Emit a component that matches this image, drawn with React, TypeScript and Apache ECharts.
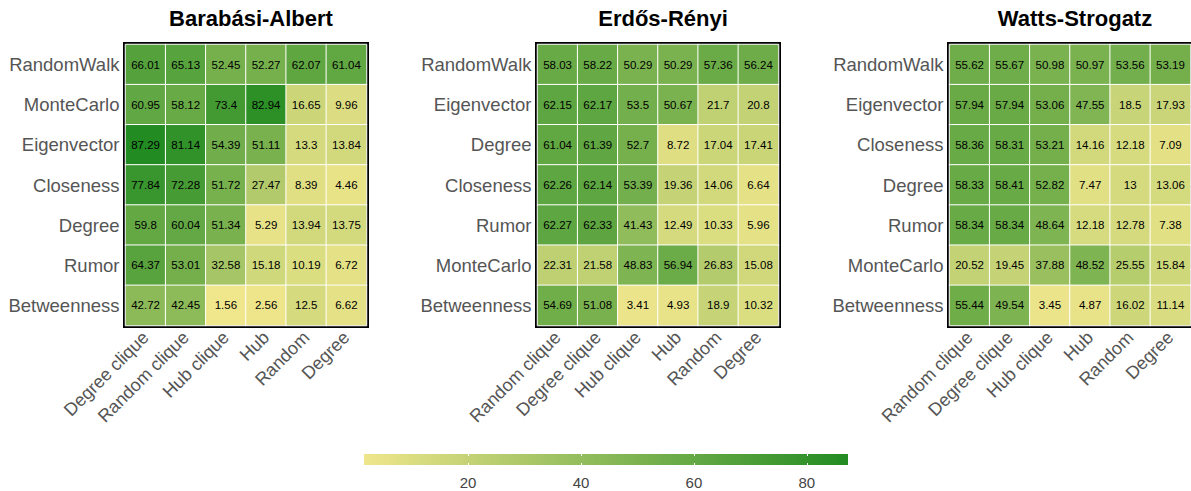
import React, { useEffect, useRef } from "react";
import * as echarts from "echarts";

const FONT = 'Arial, "Liberation Sans", Helvetica, sans-serif';
const KHAKI = "#f0e68c";
const GREEN = "#228b22";

const titles = ["Barabási-Albert", "Erdős-Rényi", "Watts-Strogatz"];

const baCols = ["Degree clique", "Random clique", "Hub clique", "Hub", "Random", "Degree"];
const baRows = ["RandomWalk", "MonteCarlo", "Eigenvector", "Closeness", "Degree", "Rumor", "Betweenness"];
const baValues = [
  [66.01, 65.13, 52.45, 52.27, 62.07, 61.04],
  [60.95, 58.12, 73.4, 82.94, 16.65, 9.96],
  [87.29, 81.14, 54.39, 51.11, 13.3, 13.84],
  [77.84, 72.28, 51.72, 27.47, 8.39, 4.46],
  [59.8, 60.04, 51.34, 5.29, 13.94, 13.75],
  [64.37, 53.01, 32.58, 15.18, 10.19, 6.72],
  [42.72, 42.45, 1.56, 2.56, 12.5, 6.62],
];

const erCols = ["Random clique", "Degree clique", "Hub clique", "Hub", "Random", "Degree"];
const erRows = ["RandomWalk", "Eigenvector", "Degree", "Closeness", "Rumor", "MonteCarlo", "Betweenness"];
const erValues = [
  [58.03, 58.22, 50.29, 50.29, 57.36, 56.24],
  [62.15, 62.17, 53.5, 50.67, 21.7, 20.8],
  [61.04, 61.39, 52.7, 8.72, 17.04, 17.41],
  [62.26, 62.14, 53.39, 19.36, 14.06, 6.64],
  [62.27, 62.33, 41.43, 12.49, 10.33, 5.96],
  [22.31, 21.58, 48.83, 56.94, 26.83, 15.08],
  [54.69, 51.08, 3.41, 4.93, 18.9, 10.32],
];

const wsCols = ["Random clique", "Degree clique", "Hub clique", "Hub", "Random", "Degree"];
const wsRows = ["RandomWalk", "Eigenvector", "Closeness", "Degree", "Rumor", "MonteCarlo", "Betweenness"];
const wsValues = [
  [55.62, 55.67, 50.98, 50.97, 53.56, 53.19],
  [57.94, 57.94, 53.06, 47.55, 18.5, 17.93],
  [58.36, 58.31, 53.21, 14.16, 12.18, 7.09],
  [58.33, 58.41, 52.82, 7.47, 13, 13.06],
  [58.34, 58.34, 48.64, 12.18, 12.78, 7.38],
  [20.52, 19.45, 37.88, 48.52, 25.55, 15.84],
  [55.44, 49.54, 3.45, 4.87, 16.02, 11.14],
];

const colorMin = 1.56;
const colorMax = 87.29;
const colorTicks = [20, 40, 60, 80];

const panels = [
  { cols: baCols, rows: baRows, values: baValues },
  { cols: erCols, rows: erRows, values: erValues },
  { cols: wsCols, rows: wsRows, values: wsValues },
];

export default function App() {
  const ref = useRef<HTMLDivElement>(null);
  useEffect(() => {
    document.body.style.margin = "0";
    if (!ref.current) return;
    const chart = echarts.init(ref.current, null, { renderer: "svg" });
    const gridLefts = [125.5, 537.5, 949.5];
    const gridW = 241;
    const grids: any[] = gridLefts.map((l) => ({
      left: l,
      top: 44.5,
      width: gridW,
      height: 281,
      show: true,
      borderColor: "#000",
      borderWidth: 5,
      backgroundColor: "transparent",
      containLabel: false,
    }));
    grids.push({
      left: 364,
      top: 454,
      width: 484,
      height: 11,
      show: true,
      borderWidth: 0,
      backgroundColor: new echarts.graphic.LinearGradient(0, 0, 1, 0, [
        { offset: 0, color: KHAKI },
        { offset: 1, color: GREEN },
      ]),
    });

    const xAxes: any[] = panels.map((p, i) => ({
      gridIndex: i,
      type: "category",
      data: p.cols,
      position: "bottom",
      axisLine: { show: false },
      axisTick: { show: false },
      splitLine: { show: false },
      axisLabel: {
        rotate: 45,
        interval: 0,
        fontSize: 18,
        color: "#555",
        fontFamily: FONT,
        margin: 9,
      },
    }));
    xAxes.push({
      gridIndex: 3,
      type: "value",
      min: colorMin,
      max: colorMax,
      position: "bottom",
      axisLine: { show: false },
      splitLine: { show: false },
      axisTick: {
        show: true,
        inside: true,
        length: 2,
        lineStyle: { color: "#fff", width: 1 },
        customValues: colorTicks,
      },
      axisLabel: {
        fontSize: 15,
        color: "#444",
        fontFamily: FONT,
        margin: 10,
        customValues: colorTicks,
      },
    });
    xAxes.push({
      gridIndex: 3,
      type: "value",
      min: colorMin,
      max: colorMax,
      position: "top",
      axisLine: { show: false },
      splitLine: { show: false },
      axisTick: {
        show: true,
        inside: true,
        length: 2,
        lineStyle: { color: "#fff", width: 1 },
        customValues: colorTicks,
      },
      axisLabel: { show: false },
    });

    const yAxes: any[] = panels.map((p, i) => ({
      gridIndex: i,
      type: "category",
      data: p.rows,
      inverse: true,
      axisLine: { show: false },
      axisTick: { show: false },
      splitLine: { show: false },
      axisLabel: {
        fontSize: 18.5,
        color: "#555",
        fontFamily: FONT,
        margin: 6,
      },
    }));
    yAxes.push({ gridIndex: 3, type: "value", show: false, min: 0, max: 1 });

    const series: any[] = panels.map((p, i) => {
      const data: any[] = [];
      p.values.forEach((row, r) => {
        row.forEach((v, c) => data.push([c, r, v]));
      });
      return {
        type: "heatmap",
        xAxisIndex: i,
        yAxisIndex: i,
        data,
        itemStyle: { borderColor: "#fff", borderWidth: 1 },
        label: {
          show: true,
          fontSize: 11.5,
          color: "#000",
          fontFamily: FONT,
          formatter: (prm: any) => String(prm.value[2]),
        },
        emphasis: { disabled: true },
      };
    });

    const title = titles.map((t, i) => ({
      text: t,
      left: gridLefts[i] + gridW / 2,
      top: 2,
      textAlign: "center",
      textStyle: { fontSize: 22, fontWeight: "bold", color: "#000", fontFamily: FONT },
    }));

    chart.setOption({
      animation: false,
      backgroundColor: "#fff",
      title,
      grid: grids,
      xAxis: xAxes,
      yAxis: yAxes,
      visualMap: {
        show: false,
        type: "continuous",
        min: colorMin,
        max: colorMax,
        dimension: 2,
        seriesIndex: [0, 1, 2],
        inRange: { color: [KHAKI, GREEN] },
      },
      series,
    });
    return () => chart.dispose();
  }, []);
  return <div ref={ref} style={{ width: 1191, height: 491 }} />;
}
